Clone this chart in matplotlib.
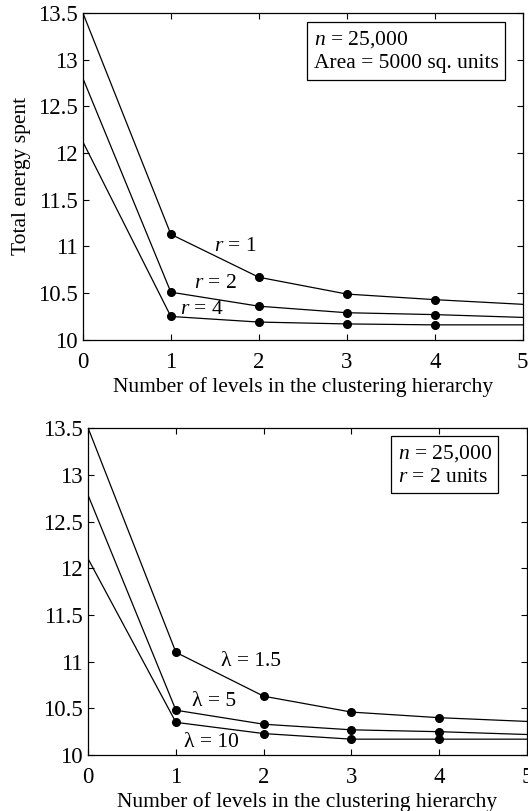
import numpy as np
import matplotlib
matplotlib.use("Agg")
import matplotlib.pyplot as plt

plt.rcParams["font.family"] = "Liberation Serif"
plt.rcParams["mathtext.fontset"] = "custom"
plt.rcParams["mathtext.it"] = "Liberation Serif:italic"
plt.rcParams["mathtext.rm"] = "Liberation Serif"

levels = [0, 1, 2, 3, 4, 5]

# top panel: varying radius r
energy_r1 = [13.5, 11.13, 10.67, 10.49, 10.43, 10.38]
energy_r2 = [12.8, 10.51, 10.36, 10.29, 10.27, 10.24]
energy_r4 = [12.12, 10.25, 10.19, 10.17, 10.16, 10.16]
labels_r = ["$r$ = 1", "$r$ = 2", "$r$ = 4"]

# bottom panel: varying lambda
energy_l15 = [13.5, 11.1, 10.63, 10.46, 10.4, 10.36]
energy_l5 = [12.78, 10.48, 10.33, 10.27, 10.25, 10.22]
energy_l10 = [12.1, 10.35, 10.23, 10.17, 10.17, 10.17]
labels_l = ["λ = 1.5", "λ = 5", "λ = 10"]

yticks = [10, 10.5, 11, 11.5, 12, 12.5, 13, 13.5]
ytick_labels = ["10", "10.5", "11", "11.5", "12", "12.5", "13", "13.5"]

FS = 15.5
TICK_FS = 16.5


def style_axes(ax):
    ax.set_xlim(0, 5)
    ax.set_ylim(10, 13.5)
    ax.set_xticks(levels)
    ax.set_yticks(yticks)
    ax.set_yticklabels(ytick_labels)
    ax.tick_params(direction="in", top=True, right=True, labelsize=TICK_FS,
                   length=4, width=0.8)
    ax.tick_params(axis="y", pad=4)
    ax.tick_params(axis="x", pad=8.5)
    for s in ax.spines.values():
        s.set_linewidth(0.9)
    ax.set_xlabel("Number of levels in the clustering hierarchy", fontsize=FS, labelpad=3)


def draw_series(ax, series):
    for ys in series:
        ax.plot(levels, ys, color="black", lw=0.9, marker="o", markersize=5.5,
                markevery=[1, 2, 3, 4])


fig = plt.figure(figsize=(5.28, 8.11), dpi=100)

ax1 = fig.add_axes([0.157, 0.581, 0.833, 0.403])
draw_series(ax1, [energy_r1, energy_r2, energy_r4])
style_axes(ax1)
ax1.set_ylabel("Total energy spent", fontsize=FS, labelpad=5)
ax1.text(1.73, 11.0, labels_r[0], fontsize=FS, ha="center", va="center")
ax1.text(1.51, 10.6, labels_r[1], fontsize=FS, ha="center", va="center")
ax1.text(1.35, 10.32, labels_r[2], fontsize=FS, ha="center", va="center")
ax1.text(0.525, 0.95, "$n$ = 25,000\nArea = 5000 sq. units", transform=ax1.transAxes,
         fontsize=FS, ha="left", va="top", linespacing=1.3,
         bbox=dict(boxstyle="square,pad=0.3", fc="white", ec="black", lw=0.9))

ax2 = fig.add_axes([0.167, 0.069, 0.831, 0.403])
draw_series(ax2, [energy_l15, energy_l5, energy_l10])
style_axes(ax2)
ax2.text(1.86, 11.0, labels_l[0], fontsize=FS, ha="center", va="center")
ax2.text(1.43, 10.57, labels_l[1], fontsize=FS, ha="center", va="center")
ax2.text(1.40, 10.13, labels_l[2], fontsize=FS, ha="center", va="center")
ax2.text(0.705, 0.955, "$n$ = 25,000\n$r$ = 2 units", transform=ax2.transAxes,
         fontsize=FS, ha="left", va="top", linespacing=1.3,
         bbox=dict(boxstyle="square,pad=0.3", fc="white", ec="black", lw=0.9))

fig.savefig("out.png", dpi=100)
